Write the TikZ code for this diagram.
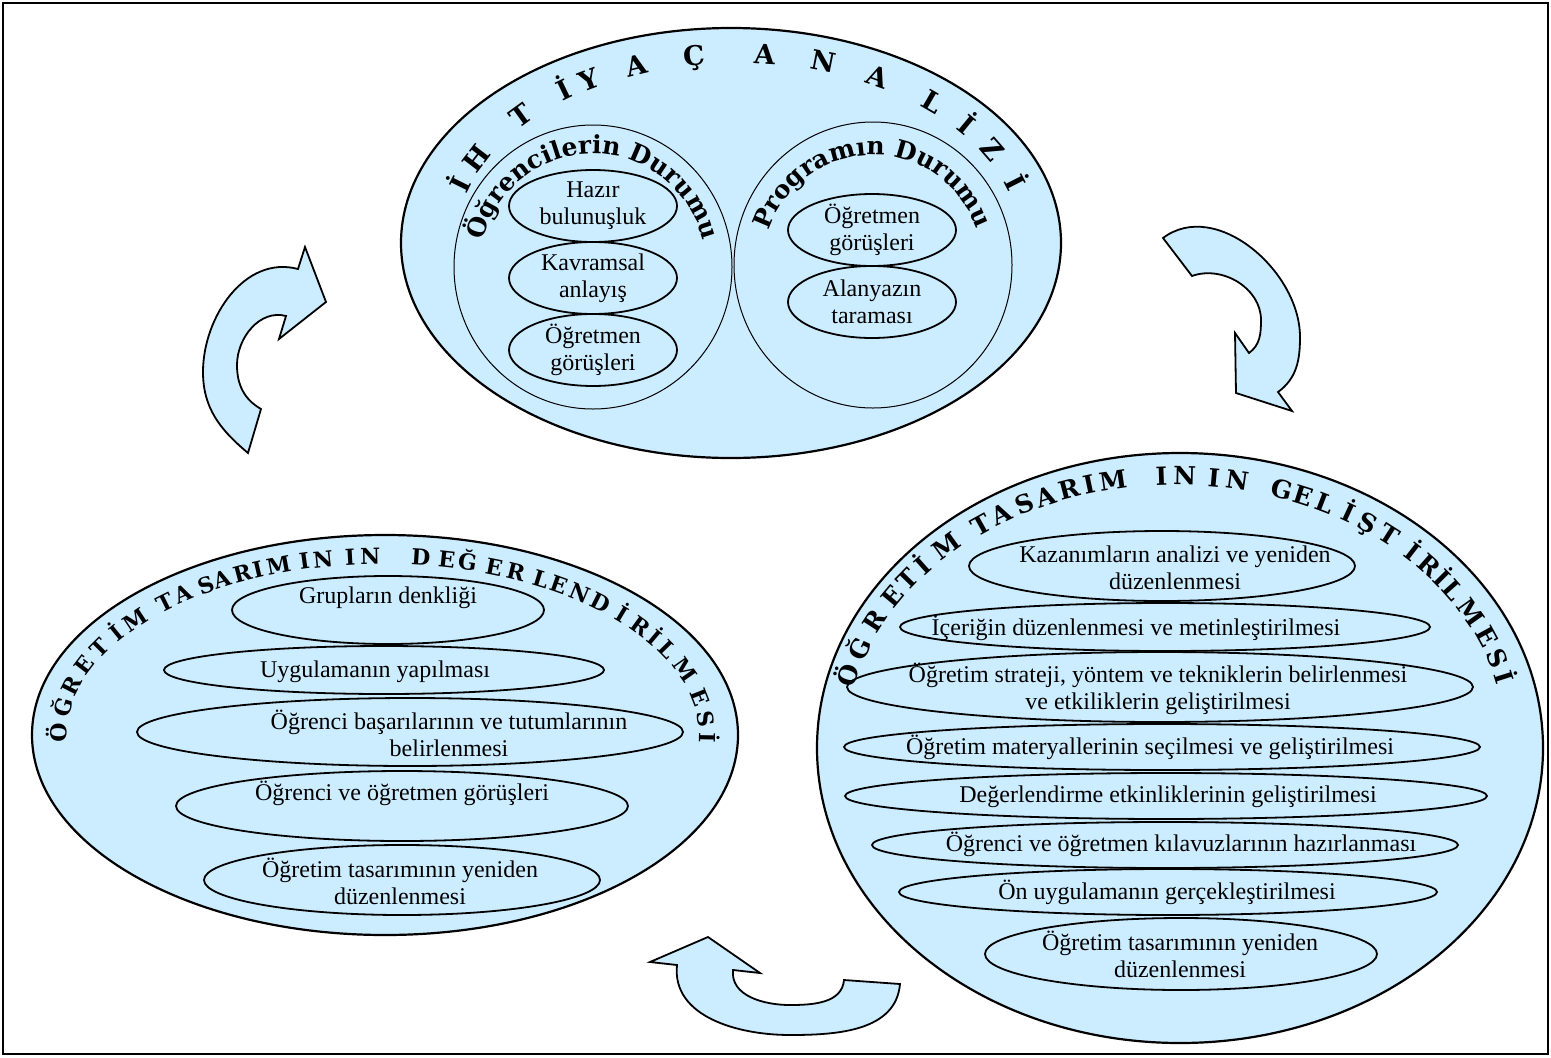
\documentclass[tikz,border=0pt]{standalone}
\usepackage{fontspec}
\setmainfont{Liberation Serif}
\newfontfamily\ttlfont{DejaVu Serif}
\usetikzlibrary{shapes.geometric,decorations.text}
\definecolor{bubble}{HTML}{CCECFF}
\newcommand\subtitlefont{\ttlfont\bfseries\fontsize{25}{25}\selectfont}
\tikzset{
  outerbubble/.style={ellipse, draw=black, line width=2.2pt, fill=bubble, inner sep=0pt, outer sep=0pt},
  innercircle/.style={ellipse, draw=black, line width=1pt, inner sep=0pt, outer sep=0pt},
  itembubble/.style={ellipse, draw=black, line width=1.8pt, inner sep=0pt, outer sep=0pt},
  itemtext/.style={align=center, inner sep=0pt, font=\fontsize{24}{27}\selectfont},
  blockarrow/.style={draw=black, line width=1.8pt, fill=bubble, line join=miter},
  arcchar/.style={anchor=base, inner sep=0pt, outer sep=0pt},
  bigtitle/.style={arcchar, font=\ttlfont\bfseries\fontsize{27}{27}\selectfont},
  righttitle/.style={arcchar, font=\ttlfont\bfseries\fontsize{25}{25}\selectfont},
  lefttitle/.style={arcchar, font=\ttlfont\bfseries\fontsize{22}{22}\selectfont},
  arclabel/.style={decorate, decoration={text along path, text align=center, text={|\subtitlefont|#1}}},
}
% letters set one by one along an ellipse: style, name prefix, centre x, centre y (downwards), a, b, letter/angle list
\newcommand\arcword[7]{%
  \foreach \lt/\ang [count=\k] in {#7} {
    \pgfmathsetmacro\px{#3+#5*cos(\ang)}
    \pgfmathsetmacro\py{-#4+#6*sin(\ang)}
    \pgfmathsetmacro\rot{atan2(-#6*cos(\ang), #5*sin(\ang))}
    \node[#1, rotate=\rot] (#2\k) at (\px,\py) {\lt};
  }
}
\begin{document}
\begin{tikzpicture}[x=1pt,y=1pt]
\useasboundingbox (0,0) rectangle (1551,-1058);
\draw[line width=2.5pt] (3,-3) rectangle (1548,-1054);

% ---------------- needs analysis ----------------
\node[outerbubble, minimum width=660pt, minimum height=430pt] (need) at (731,-243) {};
\node[innercircle, minimum width=278pt, minimum height=284pt] (stu) at (593,-267) {};
\node[innercircle, minimum width=278pt, minimum height=286pt] (prog) at (873,-265) {};

\node[itembubble, minimum width=168pt, minimum height=72pt] (s1) at (593,-206) {};
\node[itembubble, minimum width=168pt, minimum height=72pt] (s2) at (593,-278) {};
\node[itembubble, minimum width=168pt, minimum height=72pt] (s3) at (593,-350) {};
\node[itembubble, minimum width=168pt, minimum height=72pt] (p1) at (872,-230) {};
\node[itembubble, minimum width=168pt, minimum height=72pt] (p2) at (872,-302) {};
\node[itemtext] (s1t) at (s1.center) {Hazır\\bulunuşluk};
\node[itemtext] (s2t) at (s2.center) {Kavramsal\\anlayış};
\node[itemtext] (s3t) at (s3.center) {Öğretmen\\görüşleri};
\node[itemtext] (p1t) at (p1.center) {Öğretmen\\görüşleri};
\node[itemtext] (p2t) at (p2.center) {Alanyazın\\taraması};

\arcword{bigtitle}{na}{738}{243}{282}{180}{İ/162.5, H/154, T/138.6, İ/127, Y/121, A/110.7, Ç/98.8, A/84.7, N/72.7, A/61, L/47.7, İ/37.8, Z/29, İ/18}
\path[arclabel={Öğrencilerin Durumu}] (593,-267) ++(178:113) arc[start angle=178, end angle=2, radius=113];
\path[arclabel={Programın Durumu}] (873,-265) ++(179:110) arc[start angle=179, end angle=2, radius=110];

% ---------------- evaluation ----------------
\node[outerbubble, minimum width=706pt, minimum height=400pt] (eval) at (385,-735) {};
\node[itembubble, minimum width=312pt, minimum height=68pt] (e1) at (388,-610) {};
\node[itembubble, minimum width=440pt, minimum height=48pt] (e2) at (384,-670) {};
\node[itembubble, minimum width=546pt, minimum height=68pt] (e3) at (410,-732) {};
\node[itembubble, minimum width=452pt, minimum height=70pt] (e4) at (402,-806) {};
\node[itembubble, minimum width=396pt, minimum height=70pt] (e5) at (402,-880) {};
\node[itemtext] (e1t) at (388,-598) {Grupların denkliği};
\node[itemtext] (e2t) at (375,-672) {Uygulamanın yapılması};
\node[itemtext] (e3t) at (449,-733) {Öğrenci başarılarının ve tutumlarının\\belirlenmesi};
\node[itemtext] (e4t) at (402,-793) {Öğrenci ve öğretmen görüşleri};
\node[itemtext] (e5t) at (400,-881) {Öğretim tasarımının yeniden\\düzenlenmesi};

\arcword{lefttitle}{ev}{383}{736}{316}{172}{Ö/179, Ğ/171, R/164.4, E/157.5, T/151.5, İ/145.9, M/140.5, T/132.6, A/128.4, S/123.5, A/120, R/116, I/113, M/109, I/104.2, N/100.8, I/95.9, N/92.3, D/83.2, E/78.5, Ğ/74.7, E/69.7, R/65.5, L/60.4, E/56.7, N/52.1, D/47.3, İ/42, R/36.8, İ/32.6, L/28, M/21, E/12, S/5.2, İ/-0.6}

% ---------------- development ----------------
\node[outerbubble, minimum width=726pt, minimum height=590pt] (dev) at (1180,-748) {};
\node[itembubble, minimum width=386pt, minimum height=70pt] (d1) at (1162,-566) {};
\node[itembubble, minimum width=530pt, minimum height=48pt] (d2) at (1165,-627) {};
\node[itembubble, minimum width=626pt, minimum height=70pt] (d3) at (1160,-687) {};
\node[itembubble, minimum width=636pt, minimum height=46pt] (d4) at (1162,-747) {};
\node[itembubble, minimum width=642pt, minimum height=46pt] (d5) at (1166,-796) {};
\node[itembubble, minimum width=586pt, minimum height=46pt] (d6) at (1165,-845) {};
\node[itembubble, minimum width=538pt, minimum height=46pt] (d7) at (1168,-892) {};
\node[itembubble, minimum width=392pt, minimum height=72pt] (d8) at (1181,-954) {};
\node[itemtext] (d1t) at (1175,-568) {Kazanımların analizi ve yeniden\\düzenlenmesi};
\node[itemtext] (d2t) at (1136,-628) {İçeriğin düzenlenmesi ve metinleştirilmesi};
\node[itemtext] (d3t) at (1158,-689) {Öğretim strateji, yöntem ve tekniklerin belirlenmesi\\ve etkiliklerin geliştirilmesi};
\node[itemtext] (d4t) at (1150,-747) {Öğretim materyallerinin seçilmesi ve geliştirilmesi};
\node[itemtext] (d5t) at (1168,-797) {Değerlendirme etkinliklerinin geliştirilmesi};
\node[itemtext] (d6t) at (1181,-844) {Öğrenci ve öğretmen kılavuzlarının hazırlanması};
\node[itemtext] (d7t) at (1167,-892) {Ön uygulamanın gerçekleştirilmesi};
\node[itemtext] (d8t) at (1180,-954) {Öğretim tasarımının yeniden\\düzenlenmesi};

\arcword{righttitle}{dv}{1176}{742}{329}{257}{Ö/165.6, Ğ/159.6, R/153.1, E/147, T/142.7, İ/138.8, M/132.9, T/125.4, A/121.2, S/116.8, A/112.8, R/108.5, I/105, M/100.8, I/92.5, N/88.5, I/83.5, N/79.5, G/71.6, E/67.8, L/63.7, İ/59.2, Ş/55.3, T/50.8, İ/45.3, R/41.4, İ/37.9, L/34.6, M/29, E/23.1, S/18.1, İ/13.9}

% ---------------- cycle arrows ----------------
\draw[blockarrow] (248,-453) to[out=140,in=270] (203,-372) to[out=90,in=165] (298,-269)
  -- (305,-247) -- (326,-302) -- (279,-339) -- (286,-316)
  to[out=165,in=90] (237,-365) to[out=270,in=150] (261,-409) -- cycle;
\draw[blockarrow] (1163,-238) to[out=37,in=90] (1300,-337) to[out=270,in=36] (1278,-392)
  -- (1292,-411) -- (1236,-393) -- (1235,-333) -- (1249,-353)
  to[out=36,in=270] (1261,-320) to[out=90,in=20] (1192,-276) -- cycle;
\draw[blockarrow] (900,-984) to[out=265,in=0] (790,-1035) to[out=180,in=264] (677,-965)
  -- (650,-962) -- (708,-937) -- (760,-973) -- (733,-970)
  to[out=264,in=180] (790,-1005) to[out=0,in=265] (844,-980) -- cycle;
\end{tikzpicture}
\end{document}
